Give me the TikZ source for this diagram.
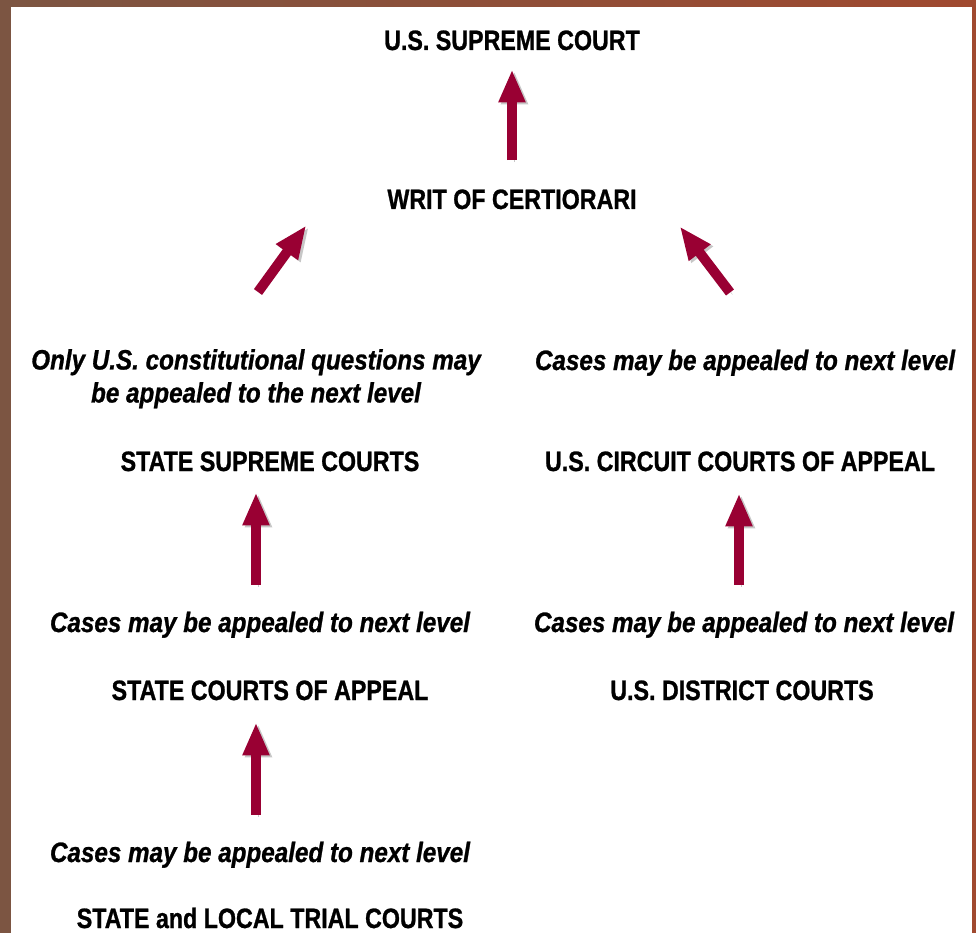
\documentclass[tikz,border=0pt]{standalone}
\usepackage{fontspec}
\setmainfont{Liberation Sans}
\newfontfamily\headfont{Liberation Sans}[FakeStretch=0.83, FakeBold=0.9]
\newfontfamily\notefont{Liberation Sans}[FakeStretch=0.865, FakeBold=0.9]
\usetikzlibrary{arrows.meta}
\definecolor{court}{RGB}{153,0,51}
\definecolor{bgleft}{RGB}{124,85,66}
\definecolor{bgmid}{RGB}{162,120,80}
\definecolor{bgright}{RGB}{160,73,47}

\begin{document}
\begin{tikzpicture}[x=1pt, y=-1pt,
    head/.style={font=\headfont\fontsize{28}{33}\selectfont\bfseries, anchor=base, inner sep=0},
    note/.style={font=\notefont\fontsize{28}{33}\selectfont\bfseries\itshape, anchor=base, inner sep=0, align=center},
    up/.style={draw=court, line width=10pt, -{Triangle[width=25pt,length=33pt]},
      preaction={draw=black!22, transform canvas={shift={(2.5pt,-2pt)}}}}]

  \useasboundingbox (0,0) rectangle (976,933);
  \shade[left color=bgleft, middle color=bgmid, right color=bgright] (0,0) rectangle (976,933);
  \fill[white] (11,7) rectangle (972,933);

  \node[head] (sup) at (512,50) {U.S. SUPREME COURT};
  \node[head] (writ) at (512,209) {WRIT OF CERTIORARI};

  \node[note, anchor=north] (onlyq) at (256,349) {Only U.S. constitutional questions may\\be appealed to the next level};
  \node[note] (casesR1) at (745,370) {Cases may be appealed to next level};

  \node[head] (ssc) at (270,471) {STATE SUPREME COURTS};
  \node[head] (circ) at (740,471) {U.S. CIRCUIT COURTS OF APPEAL};

  \node[note] (casesL2) at (260,632) {Cases may be appealed to next level};
  \node[note] (casesR2) at (744,632) {Cases may be appealed to next level};

  \node[head] (sca) at (270,700) {STATE COURTS OF APPEAL};
  \node[head] (dist) at (742,700) {U.S. DISTRICT COURTS};

  \node[note] (casesL3) at (260,862) {Cases may be appealed to next level};
  \node[head] (trial) at (270,928) {STATE and LOCAL TRIAL COURTS};

  \draw[up, shorten <=29pt, shorten >=19pt] (writ) -- (sup);
  \draw[up] ([xshift=2pt,yshift=57pt]onlyq.north) -- ([xshift=-81pt,yshift=-16pt]writ.south west);
  \draw[up] ([xshift=-15pt,yshift=57pt]casesR1.north) -- ([xshift=43pt,yshift=-17pt]writ.south east);

  \draw[up, shorten <=27pt, shorten >=21pt] ([xshift=-4pt]casesL2.north) -- ([xshift=-14pt]ssc.south);
  \draw[up, shorten <=27pt, shorten >=22pt] ([xshift=-5pt]casesR2.north) -- ([xshift=-1pt]circ.south);
  \draw[up, shorten <=27pt, shorten >=22pt] ([xshift=-4pt]casesL3.north) -- ([xshift=-14pt]sca.south);

\end{tikzpicture}
\end{document}
